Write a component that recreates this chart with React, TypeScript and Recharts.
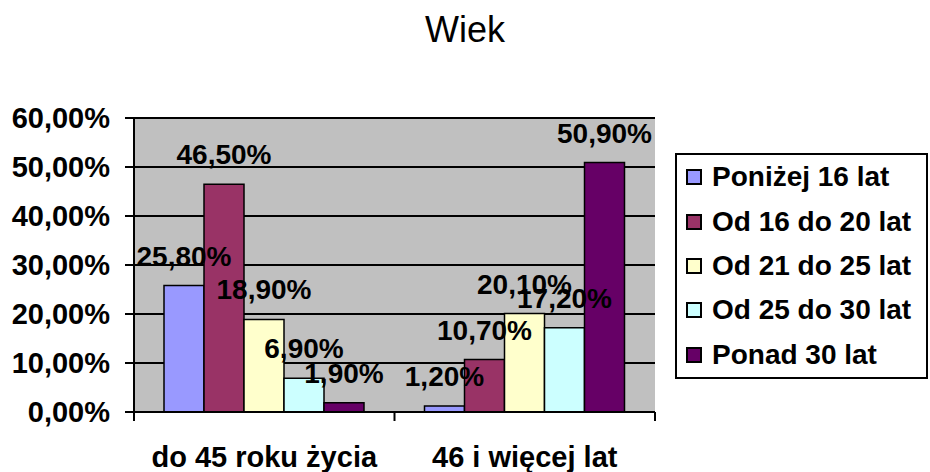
import React from 'react';
import { BarChart, Bar, XAxis, YAxis, CartesianGrid, LabelList } from 'recharts';

const categories = ['do 45 roku życia', '46 i więcej lat'];
const seriesNames = ['Poniżej 16 lat', 'Od 16 do 20 lat', 'Od 21 do 25 lat', 'Od 25 do 30 lat', 'Ponad 30 lat'];
const seriesColors = ['#9999FF', '#993366', '#FFFFCC', '#CCFFFF', '#660066'];
const ponizej16 = [25.8, 1.2];
const od16do20 = [46.5, 10.7];
const od21do25 = [18.9, 20.1];
const od25do30 = [6.9, 17.2];
const ponad30 = [1.9, 50.9];
const yTicks = [0, 10, 20, 30, 40, 50, 60];
const title = 'Wiek';

const seriesValues = [ponizej16, od16do20, od21do25, od25do30, ponad30];
const seriesKeys = ['s0', 's1', 's2', 's3', 's4'];

const data = categories.map((c, i) => {
  const row: Record<string, any> = { category: c };
  seriesKeys.forEach((k, s) => {
    row[k] = seriesValues[s][i];
  });
  return row;
});

const FONT = "'Liberation Sans', Arial, sans-serif";
const W = 930;
const H = 472;
const MARGIN = { top: 118, right: 275, bottom: 0, left: 0 };
const Y_W = 134;
const X_H = 60;
const X_TICK_SIZE = 9;
const X_TICK_MARGIN = 25;
const BAND_HALF = (W - MARGIN.left - MARGIN.right - Y_W) / categories.length / 2;

const fmt = (v: any) => Number(v).toFixed(2).replace('.', ',') + '%';

const XTick = (props: any) => {
  const { x, y, payload, index } = props;
  const axisY = y - X_TICK_SIZE - X_TICK_MARGIN;
  return (
    <g>
      <line x1={x - BAND_HALF} x2={x - BAND_HALF} y1={axisY} y2={axisY + X_TICK_SIZE} stroke="#000" strokeWidth={2} />
      {index === categories.length - 1 && (
        <line x1={x + BAND_HALF} x2={x + BAND_HALF} y1={axisY} y2={axisY + X_TICK_SIZE} stroke="#000" strokeWidth={2} />
      )}
      <text x={x} y={y} dy="0.71em" textAnchor="middle" fill="#000" fontSize={29} fontWeight="bold" fontFamily={FONT}>
        {payload.value}
      </text>
    </g>
  );
};

export default function App() {
  return (
    <div style={{ position: 'absolute', left: 0, top: 0, width: W, height: H, background: '#fff', fontFamily: FONT }}>
      <div
        style={{
          position: 'absolute',
          left: 0,
          top: 12,
          width: W,
          textAlign: 'center',
          fontSize: 36,
          lineHeight: '36px',
          color: '#000',
        }}
      >
        {title}
      </div>
      <BarChart width={W} height={H} data={data} margin={MARGIN} barGap={0}>
        <CartesianGrid
          yAxisId="left"
          vertical={false}
          horizontal={true}
          stroke="#000"
          strokeWidth={2}
          fill="#C0C0C0"
          fillOpacity={1}
        />
        <XAxis
          dataKey="category"
          height={X_H}
          axisLine={{ stroke: '#000', strokeWidth: 2 }}
          tickLine={false}
          tickSize={X_TICK_SIZE}
          tickMargin={X_TICK_MARGIN}
          tick={(p: any) => <XTick {...p} />}
          interval={0}
        />
        <XAxis
          xAxisId="top"
          dataKey="category"
          orientation="top"
          height={0}
          axisLine={{ stroke: '#808080', strokeWidth: 2 }}
          tickLine={false}
          tick={false}
        />
        <YAxis
          yAxisId="left"
          width={Y_W}
          domain={[0, 60]}
          ticks={yTicks}
          interval={0}
          tickFormatter={fmt}
          axisLine={{ stroke: '#000', strokeWidth: 2 }}
          tickLine={{ stroke: '#000', strokeWidth: 2 }}
          tickSize={9}
          tickMargin={15}
          tick={{ fill: '#000', fontSize: 29, fontWeight: 'bold', fontFamily: FONT }}
        />
        <YAxis
          yAxisId="right"
          orientation="right"
          width={0}
          domain={[0, 60]}
          axisLine={{ stroke: '#808080', strokeWidth: 2 }}
          tickLine={false}
          tick={false}
        />
        {seriesKeys.map((k, s) => (
          <Bar
            key={k}
            dataKey={k}
            name={seriesNames[s]}
            yAxisId="left"
            fill={seriesColors[s]}
            stroke="#000"
            strokeWidth={1.5}
            barSize={40}
            isAnimationActive={false}
          >
            <LabelList
              dataKey={k}
              position="top"
              offset={20}
              formatter={fmt}
              fill="#000"
              fontSize={28}
              fontWeight="bold"
              fontFamily={FONT}
            />
          </Bar>
        ))}
      </BarChart>
      <div
        style={{
          position: 'absolute',
          left: 675,
          top: 153,
          width: 253,
          height: 226,
          boxSizing: 'border-box',
          border: '2px solid #000',
          background: '#fff',
        }}
      >
        {seriesNames.map((n, s) => (
          <div key={n} style={{ height: 44.4, display: 'flex', alignItems: 'center', paddingLeft: 9 }}>
            <div
              style={{
                width: 16,
                height: 16,
                boxSizing: 'border-box',
                border: '2px solid #000',
                background: seriesColors[s],
                marginRight: 10,
                flexShrink: 0,
              }}
            />
            <span style={{ fontSize: 28, fontWeight: 'bold', color: '#000', whiteSpace: 'nowrap', lineHeight: '28px' }}>{n}</span>
          </div>
        ))}
      </div>
    </div>
  );
}
